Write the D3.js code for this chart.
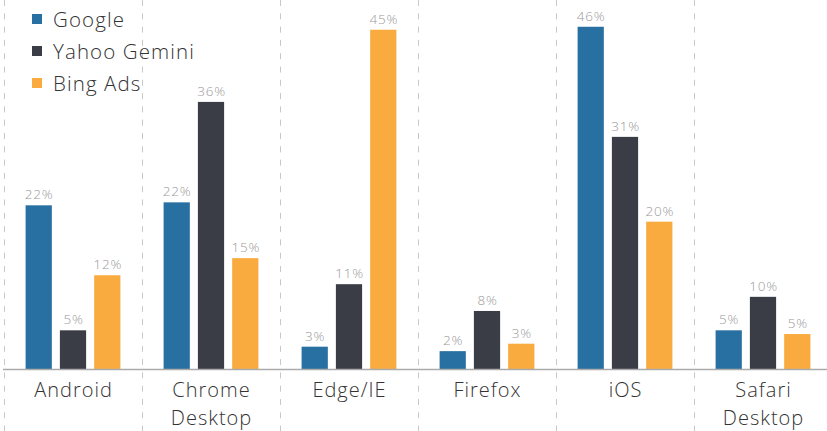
<!DOCTYPE html>
<html>
<head>
<meta charset="utf-8">
<script src="https://cdn.jsdelivr.net/npm/d3@7"></script>
<style>
  html, body { margin: 0; padding: 0; background: #fff; }
  svg { display: block; }
</style>
</head>
<body>
<svg id="chart" width="827" height="431"></svg>
<script>
const categories = [["Android"], ["Chrome", "Desktop"], ["Edge/IE"], ["Firefox"], ["iOS"], ["Safari", "Desktop"]];
const seriesNames = ["Google", "Yahoo Gemini", "Bing Ads"];
const seriesColors = ["#2870a1", "#3a3d46", "#f9ab3f"];
const google = [22.0, 22.4, 3.0, 2.4, 46.0, 5.2];
const yahoo = [5.2, 35.9, 11.4, 7.8, 31.2, 9.7];
const bing = [12.6, 14.9, 45.6, 3.4, 19.8, 4.7];
const labelsGoogle = ["22%", "22%", "3%", "2%", "46%", "5%"];
const labelsYahoo = ["5%", "36%", "11%", "8%", "31%", "10%"];
const labelsBing = ["12%", "15%", "45%", "3%", "20%", "5%"];

const values = [google, yahoo, bing];
const labels = [labelsGoogle, labelsYahoo, labelsBing];

const FONT = "'Open Sans', Lato, sans-serif";
const svg = d3.select("#chart");
const W = 827, H = 431;
const baseY = 369;

const x0 = d3.scaleBand().domain(d3.range(categories.length)).range([4, 832]).padding(0);
const x1 = d3.scaleBand().domain(d3.range(seriesNames.length)).range([0, x0.bandwidth()])
  .paddingInner(0.235).paddingOuter(0.63);
const y = d3.scaleLinear().domain([0, 50]).range([baseY, baseY - 50 * 7.44]);

// dashed separators
svg.append("g").selectAll("line")
  .data(d3.range(categories.length + 1))
  .join("line")
  .attr("x1", d => 4 + d * x0.step() + 0.5)
  .attr("x2", d => 4 + d * x0.step() + 0.5)
  .attr("y1", 0).attr("y2", H)
  .attr("stroke", "#c8c8c8")
  .attr("stroke-width", 1)
  .attr("stroke-dasharray", "6,7.3");

// bars
const groups = svg.append("g").selectAll("g")
  .data(categories.map((c, i) => i))
  .join("g")
  .attr("transform", i => `translate(${x0(i)},0)`);

groups.selectAll("rect")
  .data(i => values.map((s, k) => ({ k, v: s[i], l: labels[k][i] })))
  .join("rect")
  .attr("x", d => x1(d.k))
  .attr("width", x1.bandwidth())
  .attr("y", d => y(d.v))
  .attr("height", d => baseY - y(d.v))
  .attr("fill", d => seriesColors[d.k]);

groups.selectAll("text.val")
  .data(i => values.map((s, k) => ({ k, v: s[i], l: labels[k][i] })))
  .join("text")
  .attr("class", "val")
  .attr("x", d => x1(d.k) + x1.bandwidth() / 2 + 0.5)
  .attr("y", d => y(d.v) - 6)
  .attr("text-anchor", "middle")
  .attr("font-family", FONT)
  .attr("font-weight", 300)
  .attr("font-size", 13.5)
  .attr("letter-spacing", 0.8)
  .attr("fill", "#999999")
  .text(d => d.l);

// baseline axis
const xAxis = d3.axisBottom(x0).tickSize(0).tickFormat("");
const axG = svg.append("g").attr("transform", `translate(0,${baseY})`).call(xAxis);
axG.select(".domain").attr("stroke", "#aaaaaa").attr("stroke-width", 1.5).attr("d", "M3,0.5H827");

// category labels
const catText = svg.append("g").selectAll("text")
  .data(categories.map((c, i) => ({ c, i })))
  .join("text")
  .attr("x", d => x0(d.i) + x0.bandwidth() / 2)
  .attr("y", 397)
  .attr("text-anchor", "middle")
  .attr("font-family", FONT)
  .attr("font-weight", 300)
  .attr("font-size", 20)
  .attr("letter-spacing", 1)
  .attr("fill", "#333");
catText.selectAll("tspan")
  .data(d => d.c.map(t => ({ t, x: x0(d.i) + x0.bandwidth() / 2 + 0.5 })))
  .join("tspan")
  .attr("x", d => d.x)
  .attr("dy", (d, j) => j === 0 ? 0 : 28)
  .text(d => d.t);

// legend
const leg = svg.append("g").selectAll("g")
  .data(seriesNames.map((n, k) => ({ n, k })))
  .join("g")
  .attr("transform", d => `translate(32,${14 + d.k * 32})`);
leg.append("rect").attr("width", 10).attr("height", 10).attr("fill", d => seriesColors[d.k]);
leg.append("text")
  .attr("x", 21).attr("y", 13)
  .attr("font-family", FONT)
  .attr("font-weight", 300)
  .attr("font-size", 20.5)
  .attr("letter-spacing", 1.1)
  .attr("fill", "#333")
  .text(d => d.n);
</script>
</body>
</html>
